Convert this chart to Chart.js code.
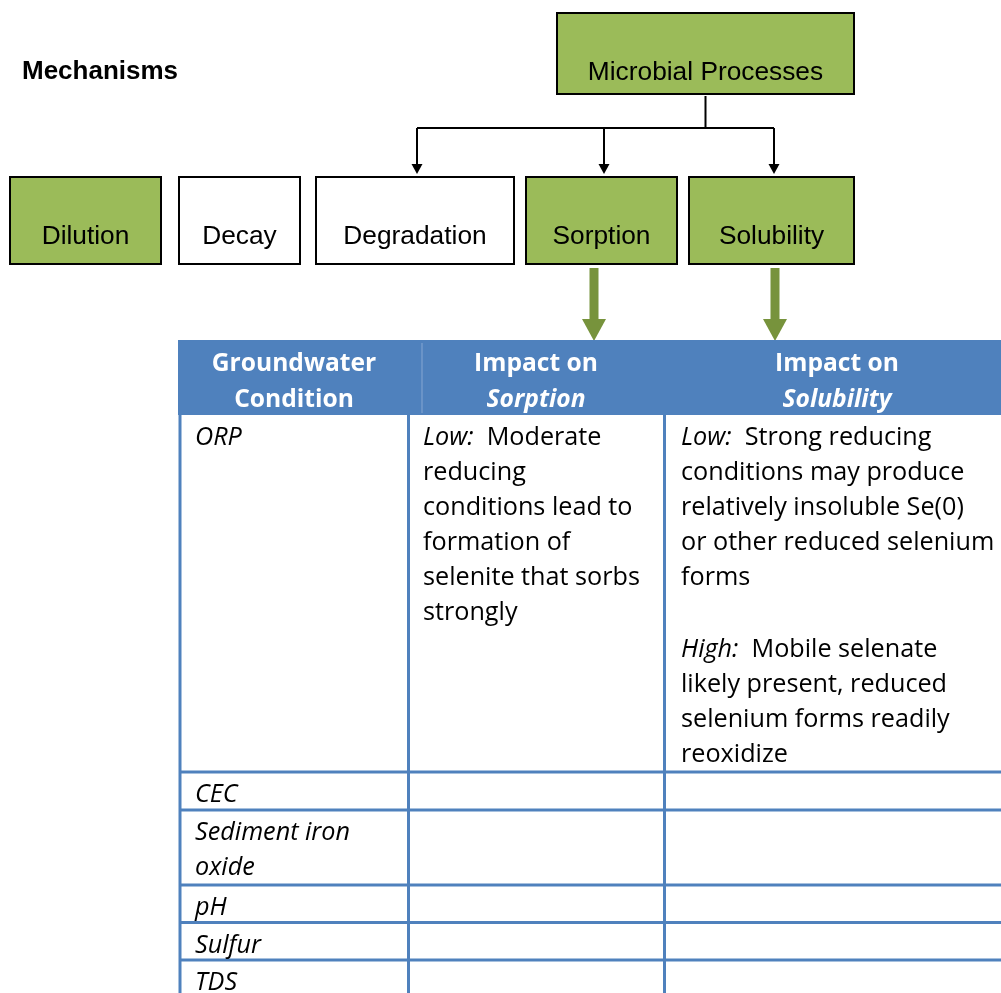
<!DOCTYPE html>
<html>
<head>
<meta charset="utf-8">
<script src="https://cdn.jsdelivr.net/npm/chart.js@4.4.1/dist/chart.umd.min.js"></script>
<style>
  html, body { margin: 0; padding: 0; background: #fff; }
  canvas { display: block; }
</style>
</head>
<body>
<canvas id="diagram" width="1001" height="993"></canvas>
<script>
// Datos del diagrama
const mechanismsTitle = 'Mechanisms';
const parentProcess = 'Microbial Processes';
const mechanisms = ['Dilution', 'Decay', 'Degradation', 'Sorption', 'Solubility'];
const highlighted = ['Dilution', 'Sorption', 'Solubility'];
const microbialTargets = ['Degradation', 'Sorption', 'Solubility'];
const tableTargets = ['Sorption', 'Solubility'];

const tableHeaders = [
    [{ t: 'Groundwater' }, { t: 'Condition' }],
    [{ t: 'Impact on' }, { t: 'Sorption', i: true }],
    [{ t: 'Impact on' }, { t: 'Solubility', i: true }]
];
const conditions = [
    ['ORP'],
    ['CEC'],
    ['Sediment iron', 'oxide'],
    ['pH'],
    ['Sulfur'],
    ['TDS']
];
// lead = texto en cursiva, text = texto normal
const sorptionImpact = [
    { lead: 'Low:', text: 'Moderate' },
    { text: 'reducing' },
    { text: 'conditions lead to' },
    { text: 'formation of' },
    { text: 'selenite that sorbs' },
    { text: 'strongly' }
];
const solubilityImpact = [
    { lead: 'Low:', text: 'Strong reducing' },
    { text: 'conditions may produce' },
    { text: 'relatively insoluble Se(0)' },
    { text: 'or other reduced selenium' },
    { text: 'forms' },
    { text: '' },
    { lead: 'High:', text: 'Mobile selenate' },
    { text: 'likely present, reduced' },
    { text: 'selenium forms readily' },
    { text: 'reoxidize' }
];

// Disposición (unidades de la escala)
const LAYOUT = {
    parentBox: [557, 13, 854, 94],
    boxTop: 177, boxBottom: 264,
    boxX: [[10, 161], [179, 300], [316, 514], [526, 677], [689, 854]],
    connectorY: 128, arrowTip: 174,
    arrowX: [417, 604, 774],
    greenArrowX: [594, 775], greenTop: 268, greenHeadTop: 319, greenTip: 341,
    headTop: 340, headBottom: 415,
    colX: [180, 408.5, 664.5, 1010],
    headDivider: 422,
    headCenters: [294, 536, 837],
    rowLines: [415, 772, 810, 885, 922.5, 960, 1010],
    lineH: 35
};

const GREEN = '#9BBB59';
const DARK_GREEN = '#77933C';
const BLUE = '#4F81BD';
const ARIAL = '"Liberation Sans", Arial, sans-serif';
const SEGOE = '"Open Sans", "Noto Sans", sans-serif';
const BODY = '25.2px ' + SEGOE;
const BODY_IT = 'italic 25.2px ' + SEGOE;

const diagramPlugin = {
    id: 'diagram',
    afterDraw(chart) {
        const ctx = chart.ctx;
        const X = v => chart.scales.x.getPixelForValue(v);
        const Y = v => chart.scales.y.getPixelForValue(v);
        const L = LAYOUT;

        ctx.save();
        ctx.fillStyle = '#fff';
        ctx.fillRect(0, 0, chart.width, chart.height);

        // Título
        ctx.fillStyle = '#000';
        ctx.font = 'bold 26px ' + ARIAL;
        ctx.textAlign = 'left';
        ctx.textBaseline = 'alphabetic';
        ctx.fillText(mechanismsTitle, X(22), Y(79));

        const drawBox = (x0, y0, x1, y1, label, green, offset) => {
            ctx.fillStyle = green ? GREEN : '#fff';
            ctx.fillRect(X(x0), Y(y0), X(x1) - X(x0), Y(y1) - Y(y0));
            ctx.strokeStyle = '#000';
            ctx.lineWidth = 2;
            ctx.strokeRect(X(x0), Y(y0), X(x1) - X(x0), Y(y1) - Y(y0));
            ctx.fillStyle = '#000';
            ctx.font = '26.3px ' + ARIAL;
            ctx.textAlign = 'center';
            ctx.fillText(label, X((x0 + x1) / 2), Y(y1 - offset));
        };

        // Caja superior
        const pb = L.parentBox;
        drawBox(pb[0], pb[1], pb[2], pb[3], parentProcess, true, 14);

        // Conectores
        ctx.strokeStyle = '#000';
        ctx.lineWidth = 2;
        const pc = (pb[0] + pb[2]) / 2;
        ctx.beginPath();
        ctx.moveTo(X(pc), Y(pb[3] + 2));
        ctx.lineTo(X(pc), Y(L.connectorY));
        ctx.moveTo(X(Math.min(...L.arrowX)), Y(L.connectorY));
        ctx.lineTo(X(Math.max(...L.arrowX)), Y(L.connectorY));
        ctx.stroke();
        microbialTargets.forEach((name, k) => {
            const ax = L.arrowX[k];
            ctx.beginPath();
            ctx.moveTo(X(ax), Y(L.connectorY));
            ctx.lineTo(X(ax), Y(L.arrowTip - 8));
            ctx.stroke();
            ctx.fillStyle = '#000';
            ctx.beginPath();
            ctx.moveTo(X(ax - 5.5), Y(L.arrowTip - 10));
            ctx.lineTo(X(ax + 5.5), Y(L.arrowTip - 10));
            ctx.lineTo(X(ax), Y(L.arrowTip));
            ctx.closePath();
            ctx.fill();
        });

        // Cajas de mecanismos
        mechanisms.forEach((name, k) => {
            const bx = L.boxX[k];
            drawBox(bx[0], L.boxTop, bx[1], L.boxBottom, name, highlighted.includes(name), 20);
        });

        // Flechas verdes hacia la tabla
        tableTargets.forEach((name, k) => {
            const gx = L.greenArrowX[k];
            ctx.fillStyle = DARK_GREEN;
            ctx.fillRect(X(gx - 4.5), Y(L.greenTop), X(gx + 4.5) - X(gx - 4.5), Y(L.greenHeadTop) - Y(L.greenTop));
            ctx.beginPath();
            ctx.moveTo(X(gx - 12), Y(L.greenHeadTop));
            ctx.lineTo(X(gx + 12), Y(L.greenHeadTop));
            ctx.lineTo(X(gx), Y(L.greenTip));
            ctx.closePath();
            ctx.fill();
        });

        // Cabecera de la tabla
        ctx.fillStyle = BLUE;
        ctx.fillRect(X(L.colX[0] - 2), Y(L.headTop), X(L.colX[3]) - X(L.colX[0] - 2), Y(L.headBottom) - Y(L.headTop));
        ctx.strokeStyle = '#86A6D2';
        ctx.lineWidth = 1;
        ctx.beginPath();
        ctx.moveTo(X(L.headDivider), Y(L.headTop + 3));
        ctx.lineTo(X(L.headDivider), Y(L.headBottom - 2));
        ctx.stroke();

        ctx.fillStyle = '#fff';
        ctx.textAlign = 'center';
        tableHeaders.forEach((lines, c) => {
            lines.forEach((ln, r) => {
                ctx.font = (ln.i ? 'italic ' : '') + 'bold 24.6px ' + SEGOE;
                ctx.fillText(ln.t, X(L.headCenters[c]), Y(371 + r * 36));
            });
        });

        // Líneas de la tabla
        ctx.strokeStyle = BLUE;
        ctx.lineWidth = 3;
        ctx.beginPath();
        L.colX.slice(0, 3).forEach(cx => {
            ctx.moveTo(X(cx), Y(L.headBottom));
            ctx.lineTo(X(cx), Y(1010));
        });
        L.rowLines.slice(1).forEach(ry => {
            ctx.moveTo(X(L.colX[0] - 1.5), Y(ry));
            ctx.lineTo(X(L.colX[3]), Y(ry));
        });
        ctx.stroke();

        // Texto del cuerpo
        const drawLine = (item, x, y) => {
            let cx = X(x);
            ctx.textAlign = 'left';
            ctx.fillStyle = '#000';
            if (item.lead) {
                ctx.font = BODY_IT;
                ctx.fillText(item.lead, cx, Y(y));
                cx += ctx.measureText(item.lead).width;
                ctx.font = BODY;
                cx += ctx.measureText('  ').width;
            } else {
                ctx.font = BODY;
            }
            ctx.fillText(item.text, cx, Y(y));
        };

        conditions.forEach((lines, r) => {
            lines.forEach((t, k) => {
                ctx.font = BODY_IT;
                ctx.textAlign = 'left';
                ctx.fillStyle = '#000';
                ctx.fillText(t, X(195), Y(L.rowLines[r] + 30 + k * L.lineH));
            });
        });
        sorptionImpact.forEach((item, k) => drawLine(item, 423, 445 + k * L.lineH));
        solubilityImpact.forEach((item, k) => drawLine(item, 681, 445 + k * L.lineH + (k > 5 ? 2 : 0)));

        ctx.restore();
    }
};

new Chart(document.getElementById('diagram').getContext('2d'), {
    type: 'scatter',
    data: { datasets: [] },
    options: {
        responsive: false,
        animation: false,
        devicePixelRatio: 1,
        layout: { padding: 0 },
        plugins: { legend: { display: false }, tooltip: { enabled: false } },
        scales: {
            x: { type: 'linear', min: 0, max: 1001, display: false },
            y: { type: 'linear', min: 0, max: 993, reverse: true, display: false }
        }
    },
    plugins: [diagramPlugin]
});
</script>
</body>
</html>
